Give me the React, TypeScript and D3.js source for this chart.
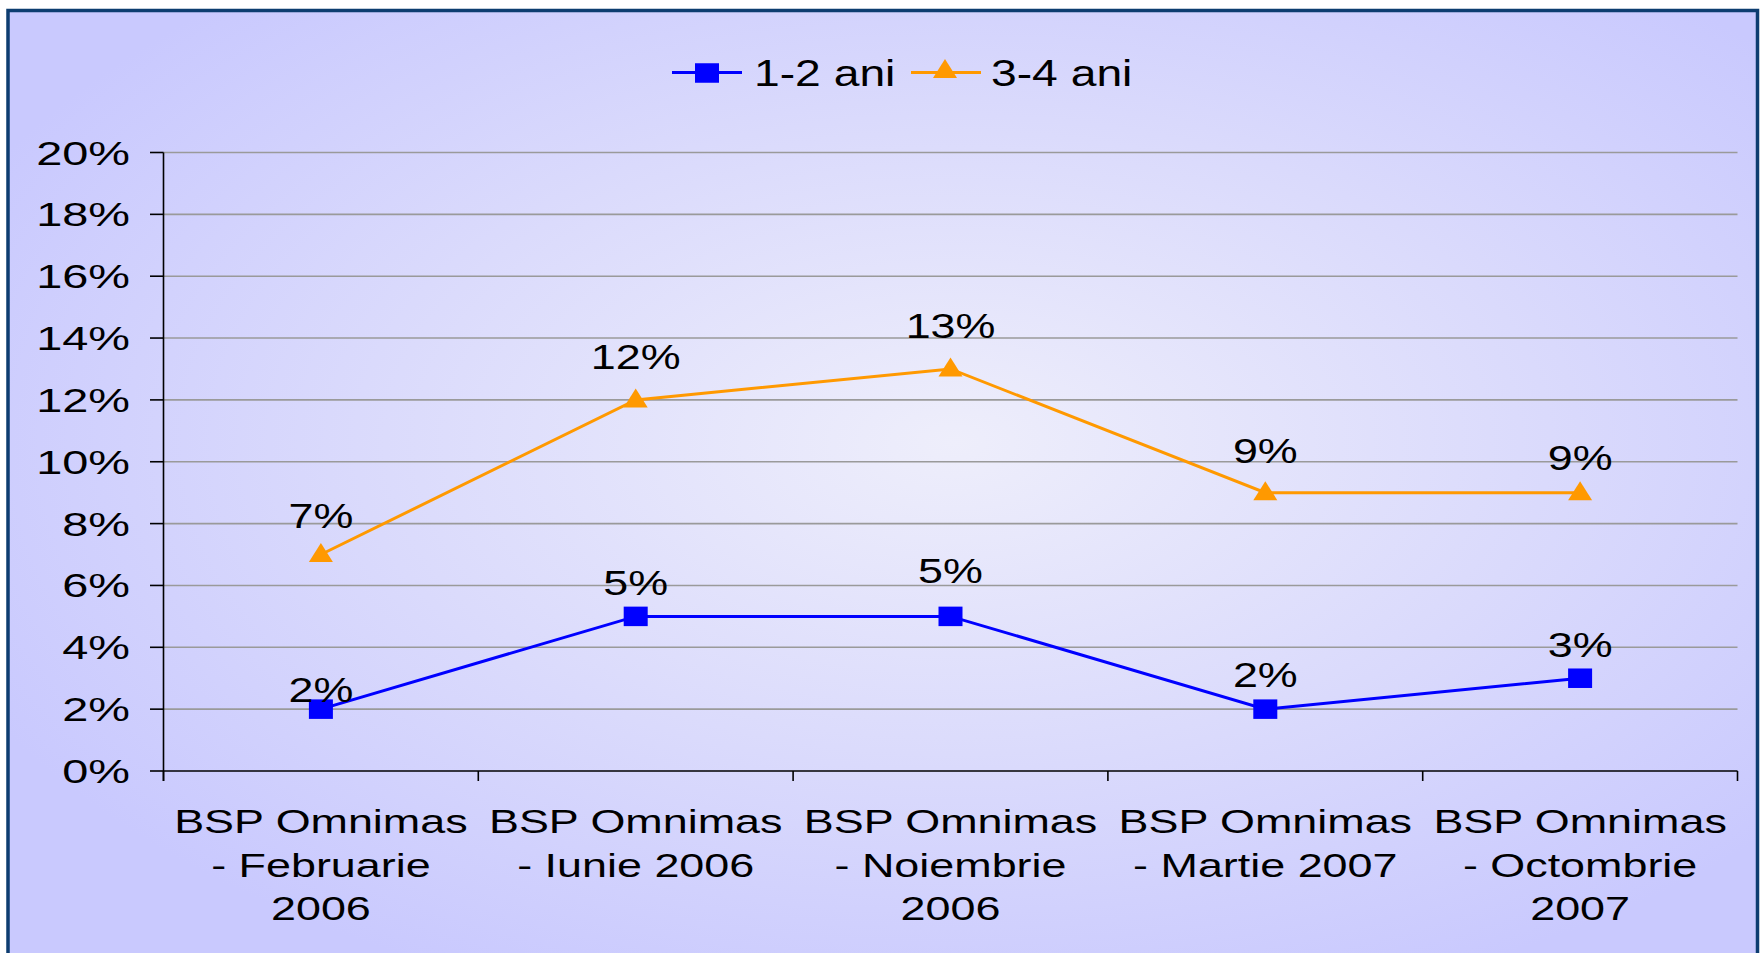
import React from "react";
import * as d3 from "d3";

const categories: string[][] = [
  ["BSP Omnimas", "- Februarie", "2006"],
  ["BSP Omnimas", "- Iunie 2006"],
  ["BSP Omnimas", "- Noiembrie", "2006"],
  ["BSP Omnimas", "- Martie 2007"],
  ["BSP Omnimas", "- Octombrie", "2007"],
];
const series12: number[] = [2, 5, 5, 2, 3];
const series34: number[] = [7, 12, 13, 9, 9];
const seriesNames: string[] = ["1-2 ani", "3-4 ani"];
const yTicks: number[] = [0, 2, 4, 6, 8, 10, 12, 14, 16, 18, 20];

// label nudges (pixels above point) to mimic the original placement
const nudge12 = [7, 21.5, 33, 21.7, 21.7];
const nudge34 = [27, 30.7, 31, 30, 22.6];

const W = 1760;
const H = 953;
const FONT = "'Liberation Sans', Arial, sans-serif";

export default function App() {
  const x = d3.scaleBand<number>().domain(d3.range(categories.length)).range([163.5, 1737.5]);
  const y = d3.scaleLinear().domain([0, 20]).range([771, 152.5]);
  const cx = (i: number) => (x(i) as number) + x.bandwidth() / 2;
  const line = d3
    .line<number>()
    .x((_, i) => cx(i))
    .y((d) => y(d));

  const Txt = (props: { x: number; y: number; size: number; sx?: number; anchor?: string; children: React.ReactNode }) => (
    <text
      transform={`translate(${props.x},${props.y}) scale(${props.sx || 1.3},1)`}
      fontSize={props.size}
      fontFamily={FONT}
      textAnchor={props.anchor || "middle"}
      fill="#000"
    >
      {props.children}
    </text>
  );

  const Square = ({ px, py }: { px: number; py: number }) => (
    <rect x={px - 12} y={py - 9.75} width={24} height={19.5} fill="#0000FF" />
  );
  const Triangle = ({ px, py }: { px: number; py: number }) => (
    <path d={`M${px},${py - 11.5} L${px + 12},${py + 7.5} L${px - 12},${py + 7.5} Z`} fill="#FF9900" />
  );

  const x0 = 163.5;
  const x1 = 1737.5;
  const ly = 72.5;

  return (
    <svg
      width={W}
      height={H}
      style={{ position: "absolute", left: 0, top: 0, display: "block" }}
      xmlns="http://www.w3.org/2000/svg"
    >
      <defs>
        <radialGradient id="bg" cx="0.54" cy="0.45" r="0.62" fx="0.54" fy="0.45">
          <stop offset="0" stopColor="#EEEEFB" />
          <stop offset="0.55" stopColor="#DADAFC" />
          <stop offset="1" stopColor="#C9C9FE" />
        </radialGradient>
      </defs>
      <rect x={0} y={0} width={W} height={H} fill="#fff" />
      <rect x={8} y={10.5} width={1749.5} height={960} fill="url(#bg)" stroke="#0D3D70" strokeWidth={3.5} />

      {/* gridlines */}
      {yTicks.slice(1).map((t) => (
        <line key={t} x1={x0} x2={x1} y1={y(t)} y2={y(t)} stroke="#9A9A9A" strokeWidth={1.6} />
      ))}

      {/* axes */}
      <line x1={x0} x2={x0} y1={y(20)} y2={y(0) + 10} stroke="#000" strokeWidth={1.6} />
      <line x1={x0} x2={x1} y1={y(0)} y2={y(0)} stroke="#000" strokeWidth={1.6} />
      {yTicks.map((t) => (
        <g key={t}>
          <line x1={150} x2={x0} y1={y(t)} y2={y(t)} stroke="#000" strokeWidth={1.6} />
          <Txt x={130} y={y(t) + 12} size={33.5} sx={1.4} anchor="end">
            {t}%
          </Txt>
        </g>
      ))}
      {d3.range(categories.length + 1).map((i) => {
        const xx = i < categories.length ? (x(i) as number) : x1;
        return <line key={i} x1={xx} x2={xx} y1={y(0)} y2={y(0) + 10} stroke="#000" strokeWidth={1.6} />;
      })}
      {categories.map((lines, i) =>
        lines.map((l, j) => (
          <Txt key={`${i}-${j}`} x={cx(i)} y={833.3 + j * 43.4} size={33.5} sx={1.34}>
            {l}
          </Txt>
        ))
      )}

      {/* series */}
      <path d={line(series34) || ""} fill="none" stroke="#FF9900" strokeWidth={3} />
      <path d={line(series12) || ""} fill="none" stroke="#0000FF" strokeWidth={3} />
      {series34.map((v, i) => (
        <Triangle key={i} px={cx(i)} py={y(v)} />
      ))}
      {series12.map((v, i) => (
        <Square key={i} px={cx(i)} py={y(v)} />
      ))}
      {series34.map((v, i) => (
        <Txt key={i} x={cx(i)} y={y(v) - nudge34[i]} size={34.5}>
          {v}%
        </Txt>
      ))}
      {series12.map((v, i) => (
        <Txt key={i} x={cx(i)} y={y(v) - nudge12[i]} size={34.5}>
          {v}%
        </Txt>
      ))}

      {/* legend */}
      <g>
        <line x1={672} x2={742} y1={ly} y2={ly} stroke="#0000FF" strokeWidth={3} />
        <Square px={707} py={ly + 0.5} />
        <Txt x={754} y={ly + 13.5} size={37} sx={1.25} anchor="start">
          {seriesNames[0]}
        </Txt>
        <line x1={911} x2={981} y1={ly} y2={ly} stroke="#FF9900" strokeWidth={3} />
        <Triangle px={945} py={ly - 2} />
        <Txt x={991} y={ly + 13.5} size={37} sx={1.25} anchor="start">
          {seriesNames[1]}
        </Txt>
      </g>
    </svg>
  );
}
